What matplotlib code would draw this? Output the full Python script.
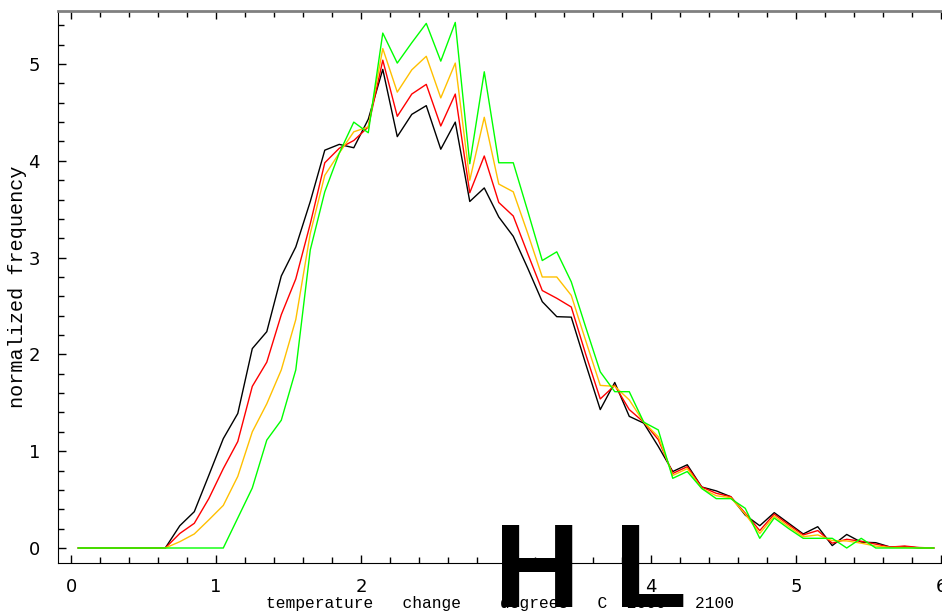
import numpy as np
import matplotlib
matplotlib.use("Agg")
import matplotlib.pyplot as plt
from matplotlib.ticker import MultipleLocator

# bin centres of the temperature histogram (degrees C)
temp = np.round(np.arange(0.05, 6.0, 0.1), 2)

# normalized frequency for the four runs
black = [0, 0, 0, 0, 0, 0, 0, 0.23, 0.375, 0.75,
         1.13, 1.39, 2.06, 2.235, 2.81, 3.11, 3.58, 4.11, 4.17, 4.135,
         4.43, 4.945, 4.25, 4.48, 4.57, 4.12, 4.40, 3.58, 3.72, 3.42,
         3.22, 2.89, 2.545, 2.39, 2.385, 1.90, 1.43, 1.71, 1.36, 1.29,
         1.05, 0.79, 0.86, 0.63, 0.59, 0.53, 0.34, 0.23, 0.365, 0.255,
         0.145, 0.22, 0.025, 0.14, 0.06, 0.055, 0.01, 0.015, 0, 0]
red = [0, 0, 0, 0, 0, 0, 0, 0.15, 0.255, 0.51,
       0.82, 1.10, 1.67, 1.92, 2.41, 2.78, 3.35, 3.98, 4.13, 4.21,
       4.35, 5.04, 4.46, 4.69, 4.79, 4.36, 4.69, 3.67, 4.05, 3.57,
       3.43, 3.04, 2.66, 2.58, 2.49, 2.00, 1.54, 1.68, 1.43, 1.30,
       1.12, 0.77, 0.84, 0.63, 0.565, 0.53, 0.36, 0.18, 0.35, 0.24,
       0.135, 0.18, 0.05, 0.09, 0.07, 0.04, 0.01, 0.02, 0.005, 0]
orange = [0, 0, 0, 0, 0, 0, 0, 0.065, 0.145, 0.29,
          0.44, 0.74, 1.20, 1.49, 1.84, 2.36, 3.25, 3.85, 4.08, 4.30,
          4.35, 5.16, 4.71, 4.94, 5.08, 4.65, 5.01, 3.80, 4.45, 3.76,
          3.68, 3.25, 2.80, 2.80, 2.61, 2.14, 1.68, 1.67, 1.53, 1.30,
          1.15, 0.75, 0.82, 0.615, 0.54, 0.52, 0.35, 0.15, 0.33, 0.22,
          0.117, 0.135, 0.076, 0.073, 0.05, 0.02, 0.005, 0.005, 0, 0]
green = [0, 0, 0, 0, 0, 0, 0, 0, 0, 0,
         0, 0.31, 0.62, 1.115, 1.32, 1.84, 3.08, 3.68, 4.08, 4.40,
         4.29, 5.32, 5.01, 5.22, 5.42, 5.03, 5.43, 3.97, 4.92, 3.98,
         3.98, 3.48, 2.97, 3.06, 2.75, 2.28, 1.82, 1.615, 1.615, 1.30,
         1.22, 0.72, 0.79, 0.615, 0.51, 0.51, 0.41, 0.10, 0.31, 0.20,
         0.10, 0.10, 0.10, 0, 0.10, 0, 0, 0, 0, 0]

series = [(black, "#000000"), (red, "#ff0000"), (orange, "#ffc000"), (green, "#00ff00")]

fig = plt.figure(figsize=(9.42, 6.11), dpi=100)
ax = fig.add_axes([58 / 942, 48 / 611, 1 - 58 / 942, 552 / 611])

for vals, col in series:
    ax.plot(temp, vals, color=col, lw=1.0)

ax.set_xlim(-0.09, 6.007)
ax.set_ylim(-0.155, 5.548)

ax.xaxis.set_major_locator(MultipleLocator(1))
ax.xaxis.set_minor_locator(MultipleLocator(0.2))
ax.yaxis.set_major_locator(MultipleLocator(1))
ax.yaxis.set_minor_locator(MultipleLocator(0.2))
ax.tick_params(which="both", direction="in", top=True, right=False)
ax.tick_params(which="major", length=6, width=1)
ax.tick_params(which="minor", length=4, width=1)
ax.tick_params(axis="x", which="major", pad=11, labelsize=13)
ax.tick_params(axis="y", which="major", pad=13, labelsize=13)

ax.spines["top"].set_color("#808080")
ax.spines["top"].set_linewidth(2)
ax.spines["right"].set_visible(False)

ax.set_ylabel("normalized frequency", family="Liberation Mono", fontsize=14.5,
              va="center")
ax.yaxis.set_label_coords(-0.046, 0.5)
ax.set_xlabel("temperature   change    degrees   C  2000 - 2100",
              family="Liberation Mono", fontsize=11.7, va="center")
ax.xaxis.set_label_coords(0.5, -0.0725)

# big letters stamped over the bottom of the plot
fig.text(494 / 942, 4 / 611, "H", family="Liberation Sans", weight="bold",
         fontsize=86, va="baseline", ha="left")
fig.text(614 / 942, 4 / 611, "L", family="Liberation Sans", weight="bold",
         fontsize=86, va="baseline", ha="left")

fig.savefig("out.png", dpi=100)
